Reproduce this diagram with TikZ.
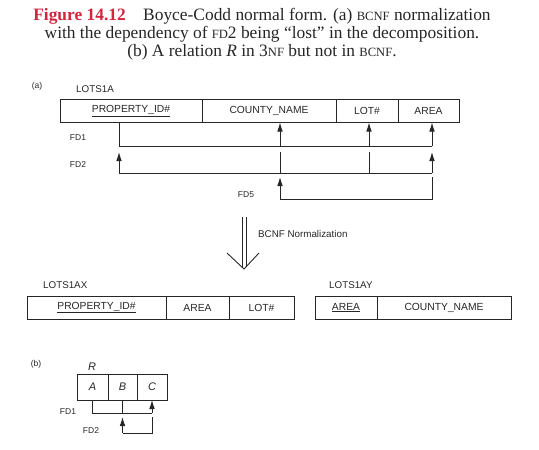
\documentclass[tikz,border=0pt]{standalone}
\usepackage{fontspec}
\setmainfont{Liberation Serif}
\setsansfont{Liberation Sans}
\usetikzlibrary{arrows.meta,positioning}
\definecolor{figred}{HTML}{D42440}
\definecolor{ink}{HTML}{262626}
\newcommand\smc[1]{{\fontsize{12.6}{18}\selectfont #1}}
\tikzset{
  cell/.style={draw=ink, line width=0.8pt, inner sep=0, outer sep=0, minimum height=23,
    font=\sffamily\fontsize{10.3}{11}\selectfont, text=ink},
  lbl/.style={font=\sffamily\fontsize{9.8}{11}\selectfont, text=ink, inner sep=0},
  fdlbl/.style={font=\sffamily\fontsize{8.5}{10}\selectfont, text=ink, inner sep=0},
  itcell/.style={cell, minimum height=26, font=\sffamily\itshape\fontsize{11}{12}\selectfont},
  fd/.style={draw=ink, line width=0.9pt},
  fdarrow/.style={-{Latex[length=9pt,width=5.6pt]}}
}
\begin{document}
\begin{tikzpicture}[x=1pt,y=-1pt]
  \useasboundingbox (0,0) rectangle (539,450);
  % caption
  \node[align=center, font=\fontsize{17.4}{17.8}\selectfont, text=ink] (cap) at (262,34)
    {{\color{figred}\bfseries Figure 14.12}\quad Boyce-Codd normal form. (a) \smc{BCNF} normalization\\
     with the dependency of \smc{FD}2 being ``lost'' in the decomposition.\\
     (b) A relation \textit{R} in 3\smc{NF} but not in \smc{BCNF}.};
  % (a) LOTS1A
  \node[fdlbl] (parta) at (37,86) {(a)};
  \node[lbl] (lotsa) at (95,89) {LOTS1A};
  \node[cell, minimum width=142, anchor=north west] (prop) at (60,99.5) {\underline{PROPERTY\_ID\#}};
  \node[cell, minimum width=134, right=0pt of prop] (county) {COUNTY\_NAME};
  \node[cell, minimum width=62, right=0pt of county] (lot) {LOT\#};
  \node[cell, minimum width=61, right=0pt of lot] (area) {AREA};
  \coordinate (xp) at (119,0);
  \coordinate (xc) at (280,0);
  \coordinate (xl) at (369,0);
  \coordinate (xar) at (432,0);
  \coordinate (fdone) at (0,146);
  \coordinate (fdtwotop) at (0,152);
  \coordinate (fdtwo) at (0,173);
  \coordinate (fdfivetop) at (0,177);
  \coordinate (fdfive) at (0,199);
  \node[fdlbl] (fdonea) at (78,138) {FD1};
  \node[fdlbl] (fdtwoa) at (78,165) {FD2};
  \node[fdlbl] (fdfivea) at (246,195) {FD5};
  % FD1
  \draw[fd] (xp |- prop.south) |- (xar |- fdone);
  \foreach \c in {xc,xl,xar}
    \draw[fd,fdarrow] (\c |- fdone) -- (\c |- prop.south);
  % FD2
  \draw[fd] (xp |- fdtwo) -- (xar |- fdtwo);
  \foreach \c in {xc,xl}
    \draw[fd] (\c |- fdtwotop) -- (\c |- fdtwo);
  \foreach \c in {xp,xar}
    \draw[fd,fdarrow] (\c |- fdtwo) -- (\c |- fdtwotop);
  % FD5
  \draw[fd,fdarrow] (xc |- fdfive) -- (xc |- fdfivetop);
  \draw[fd] (xc |- fdfive) -| (xar |- fdfivetop);
  % normalization arrow
  \draw[fd] (242,217) -- (242,267) (246,217) -- (246,267);
  \draw[fd] (227,253) -- (244,269) -- (259,253);
  \node[lbl, anchor=west] (norm) at (258,234) {BCNF Normalization};
  % LOTS1AX and LOTS1AY
  \node[lbl, anchor=west] (lotsax) at (43,285) {LOTS1AX};
  \node[cell, minimum width=139, anchor=north west] (propx) at (27,296) {\underline{PROPERTY\_ID\#}};
  \node[cell, minimum width=63, right=0pt of propx] (areax) {AREA};
  \node[cell, minimum width=65, right=0pt of areax] (lotx) {LOT\#};
  \node[lbl, anchor=west] (lotsay) at (329,285) {LOTS1AY};
  \node[cell, minimum width=62, anchor=north west] (areay) at (315,296) {\underline{AREA}};
  \node[cell, minimum width=134, right=0pt of areay] (countyy) {COUNTY\_NAME};
  % (b) R
  \node[fdlbl] (partb) at (36,364) {(b)};
  \node[lbl, font=\sffamily\itshape\fontsize{11}{12}\selectfont] (rname) at (92,367) {R};
  \node[itcell, minimum width=31, anchor=north west] (ca) at (77,374) {A};
  \node[itcell, minimum width=29, right=0pt of ca] (cb) {B};
  \node[itcell, minimum width=30, right=0pt of cb] (cc) {C};
  \coordinate (bone) at (0,413);
  \coordinate (btwotop) at (0,417);
  \coordinate (btwo) at (0,433);
  \node[fdlbl] (fdoneb) at (68,412) {FD1};
  \node[fdlbl] (fdtwob) at (91,431) {FD2};
  \draw[fd] (ca.south) |- (cc.south |- bone);
  \draw[fd] (cb.south) -- (cb.south |- bone);
  \draw[fd,fdarrow] (cc.south |- bone) -- (cc.south);
  \draw[fd,fdarrow] (cb.south |- btwo) -- (cb.south |- btwotop);
  \draw[fd] (cb.south |- btwo) -| (cc.south |- btwotop);
\end{tikzpicture}
\end{document}
